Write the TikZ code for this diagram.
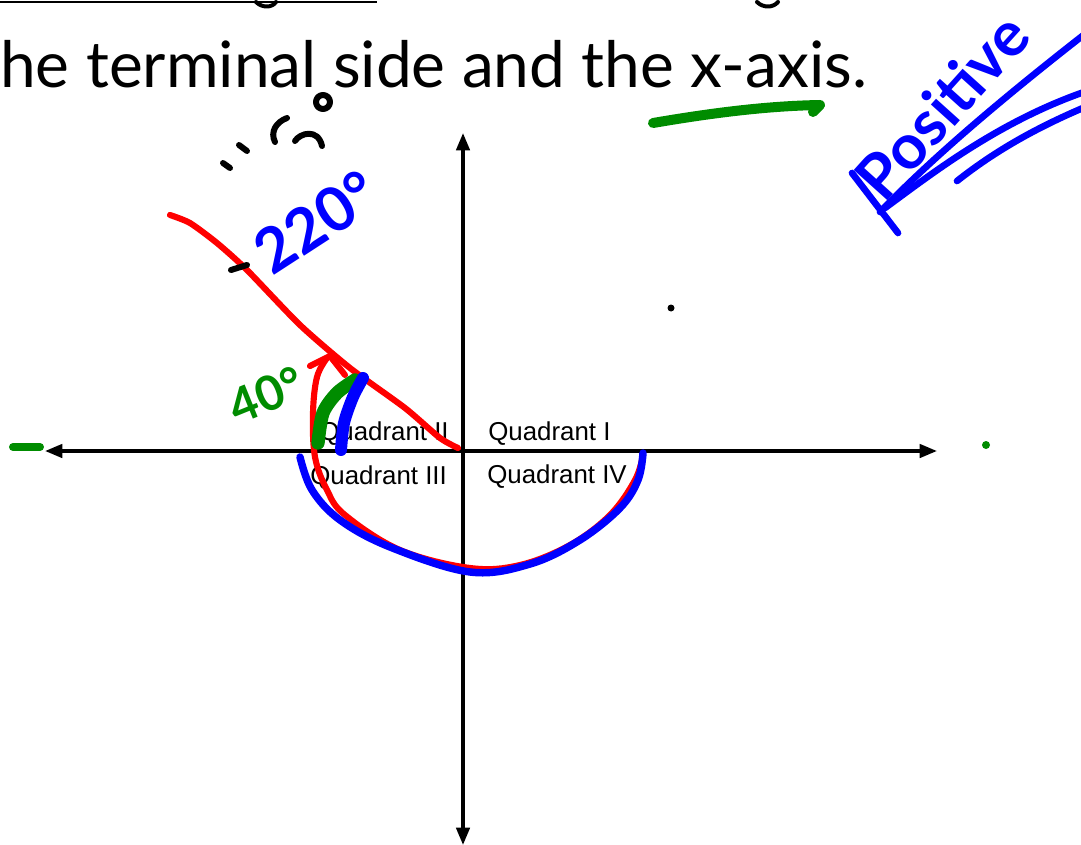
\documentclass[tikz,border=0pt]{standalone}
\usepackage{fontspec}
\setmainfont{Lato}
\newfontfamily\arialf{Liberation Sans}
\usetikzlibrary{arrows.meta}
\definecolor{penred}{RGB}{255,0,0}
\definecolor{penblue}{RGB}{0,0,255}
\definecolor{pengreen}{RGB}{0,140,0}
\tikzset{
  x=0.75pt,y=-0.75pt,
  pen/.style={line cap=round,line join=round},
  axis/.style={line width=2.6pt,-{Triangle[length=13pt,width=10pt]}},
  quad/.style={font=\arialf\fontsize{19.4pt}{22pt}\selectfont,anchor=base west,inner sep=0pt},
  hand/.style={inner sep=0pt,font=\fontsize{#1}{#1}\selectfont\bfseries},
}
\begin{document}
\begin{tikzpicture}
\useasboundingbox (0,0) rectangle (1081,845);
\clip (0,0) rectangle (1081,845);
% heading fragment
\draw[line width=1.8pt] (0,2) -- (377,2);
\draw[line width=3pt,pen] (256,2) .. controls (262,8) and (272,8) .. (276,2);
\draw[line width=3pt,pen] (757,2) .. controls (763,8) and (773,8) .. (778,2);
\node[anchor=base west,inner sep=0pt,font=\fontsize{48pt}{54pt}\selectfont\mdseries] (head) at (0,88) {he terminal side and the x-axis.};
% axes
\coordinate (xl) at (45,451); \coordinate (xr) at (937,451);
\coordinate (yt) at (463,133); \coordinate (yb) at (463,845);
\coordinate (o) at (463,451);
\draw[axis] (o) -- (xl);
\draw[axis] (o) -- (xr);
\draw[axis] (o) -- (yt);
\draw[axis] (o) -- (yb);
% quadrant labels
\node[quad] (q2) at (319,440) {Quadrant II};
\node[quad] (q1) at (488,440) {Quadrant I};
\node[quad] (q3) at (310,484) {Quadrant III};
\node[quad] (q4) at (487,483) {Quadrant IV};
% red terminal side
\draw[penred,pen,line width=4.6pt] plot[smooth,tension=0.4] coordinates {(170,215) (190,223) (217,243) (247,270) (300,325) (350,368) (405,408) (440,438) (458,448)};
% red arc with arrow
\draw[penred,pen,line width=4.6pt] plot[smooth,tension=0.6] coordinates {(327,358) (317,377) (313,413) (315,457) (327,490) (345,515) (400,550) (470,568) (520,565) (570,545) (610,515) (635,480) (643,455)};
\draw[penred,pen,line width=4.6pt] (310,366) -- (330,356) -- (345,375);
% blue arc
\draw[penblue,pen,line width=5.6pt] plot[smooth,tension=0.6] coordinates {(300,457) (312,490) (340,520) (390,547) (470,572) (530,564) (580,540) (620,508) (638,480) (643,453)};
% green and blue thick strokes
\draw[pengreen,pen,line width=10pt] plot[smooth] coordinates {(355,380) (337,393) (323,413) (318,443)};
\draw[penblue,pen,line width=9pt] plot[smooth] coordinates {(363,378) (353,397) (344,423) (341,450)};
% handwritten labels
\node[hand=36pt,text=pengreen,rotate=22] (forty) at (266,395) {40°};
\node[hand=46pt,text=penblue,rotate=33] (twotwenty) at (316,222) {220°};
\draw[pen,line width=4.5pt] (231,270) -- (247,265);
% black scribble
\draw[pen,line width=4.5pt] (223,163) -- (230,168);
\draw[pen,line width=4.5pt] (239,145) -- (247,151);
\draw[pen,line width=4.5pt] (287,118) .. controls (276,122) and (270,132) .. (275,142);
\draw[pen,line width=4.5pt] (295,141) .. controls (300,133) and (318,128) .. (322,146);
\draw[pen,line width=4.5pt] (323,102) circle[radius=7];
% Positive
\node[hand=47pt,text=penblue,rotate=48] (pos) at (942,106) {Positive};
\draw[penblue,pen,line width=5pt] (852,173) -- (898,233);
\draw[penblue,pen,line width=5pt] (880,212) .. controls (930,160) and (1000,100) .. (1090,30);
\draw[penblue,pen,line width=5pt] (885,208) .. controls (930,175) and (1000,120) .. (1090,90);
\draw[penblue,pen,line width=5pt] (957,181) .. controls (990,155) and (1030,130) .. (1090,105);
% green marks
\draw[pengreen,pen,line width=7.5pt] (653,123) .. controls (700,115) and (760,106) .. (820,105) -- (813,112);
\draw[pengreen,pen,line width=6pt] (13,447) -- (40,447);
\fill[pengreen] (986,445) circle[radius=4];
\fill (671,308) circle[radius=3.5];
\end{tikzpicture}
\end{document}
